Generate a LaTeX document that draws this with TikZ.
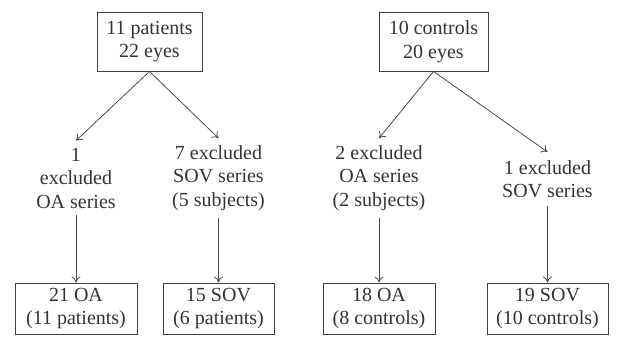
\documentclass[tikz,border=0pt]{standalone}
\usepackage{fontspec}
\setmainfont{Liberation Serif}
\usetikzlibrary{arrows.meta}
\begin{document}
\begin{tikzpicture}[x=1pt,y=-1pt,
  every node/.style={font=\fontsize{20}{23.5}\selectfont, text=black!80},
  box/.style={draw=black!75, line width=0.9pt, align=center, inner sep=0pt, minimum height=51pt},
  topbox/.style={box, minimum height=59pt},
  lbl/.style={align=center, inner sep=7pt},
  arr/.style={draw=black!70, line width=0.8pt, -{To[length=6pt,width=9pt]}}]
\useasboundingbox (0,0) rectangle (619,338);
% top boxes
\node[topbox, minimum width=105pt] (tl) at (149.5,41.5) {11 patients\\22 eyes};
\node[topbox, minimum width=109pt] (tr) at (433.5,41.5) {10 controls\\20 eyes};
% labels
\node[lbl] (e1) at (76,178) {1\\excluded\\OA series};
\node[lbl] (e2) at (218.5,178) {7 excluded\\SOV series\\(5 subjects)};
\node[lbl] (e3) at (379,178) {2 excluded\\OA series\\(2 subjects)};
\node[lbl, inner sep=8pt] (e4) at (547.5,179) {1 excluded\\SOV series};
% bottom boxes
\node[box, minimum width=122pt] (b1) at (76,308.5) {21 OA\\(11 patients)};
\node[box, minimum width=111pt] (b2) at (218.5,308.5) {15 SOV\\(6 patients)};
\node[box, minimum width=112pt] (b3) at (379,308.5) {18 OA\\(8 controls)};
\node[box, minimum width=121pt] (b4) at (547.5,308.5) {19 SOV\\(10 controls)};
% arrows
\draw[arr] (tl.south) -- (e1.north);
\draw[arr] (tl.south) -- (e2.north);
\draw[arr] (tr.south) -- (e3.north);
\draw[arr] (tr.south) -- (e4.north);
\draw[arr] (e1.south) -- (b1.north);
\draw[arr] (e2.south) -- (b2.north);
\draw[arr] (e3.south) -- (b3.north);
\draw[arr] (e4.south) -- (b4.north);
\end{tikzpicture}
\end{document}
